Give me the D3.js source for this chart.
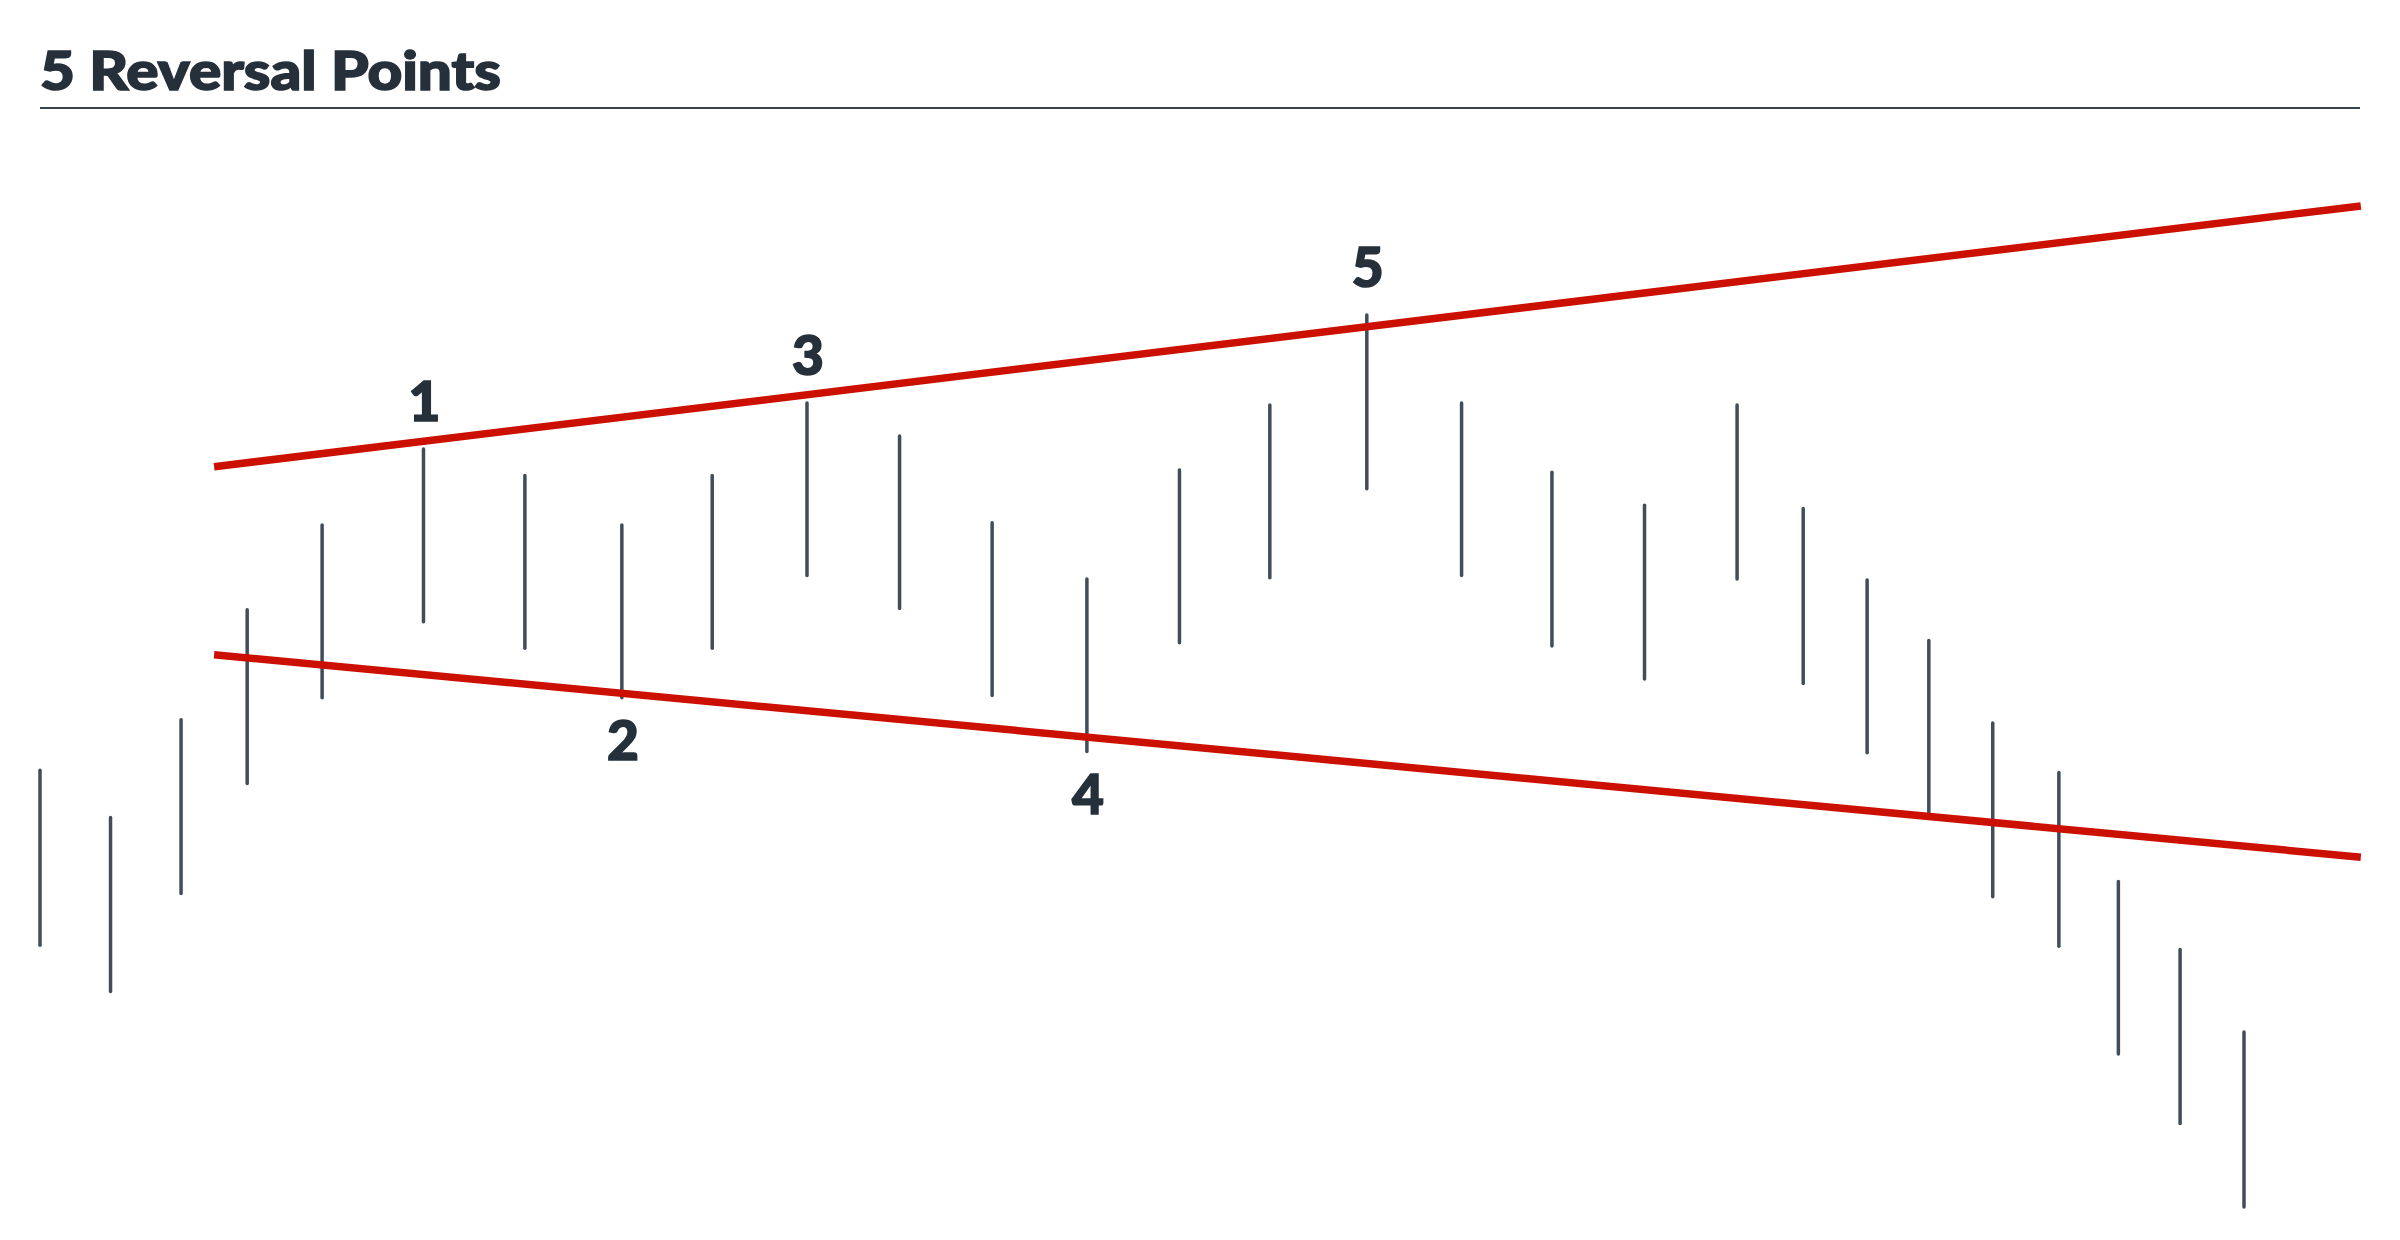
<!DOCTYPE html>
<html>
<head>
<meta charset="utf-8">
<script src="https://cdn.jsdelivr.net/npm/d3@7"></script>
<style>
    body { margin: 0; background: #fff; }
    svg { display: block; }
</style>
</head>
<body>
<div id="chart"></div>
<script>
// Price bars forming a broadening formation, with the 5 reversal points marked

// Data
// ---------------------------------------------------------
const times = [0, 3.2, 6.4, 9.4, 12.8, 17.4, 22.0, 26.4, 30.5, 34.8, 39.0, 43.2, 47.5, 51.7,
               55.8, 60.2, 64.5, 68.6, 72.8, 77.0, 80.0, 82.9, 85.7, 88.6, 91.6, 94.3, 97.1, 100];
const highs = [42.7, 38.4, 47.3, 57.3, 65.0, 71.9, 69.5, 65.0, 69.5, 76.1, 73.1, 65.2, 60.1, 70.0,
               75.9, 84.1, 76.1, 69.8, 66.8, 75.9, 66.5, 60.0, 54.5, 47.0, 42.5, 32.6, 26.4, 18.9];
const lows  = [26.8, 22.6, 31.5, 41.5, 49.3, 56.2, 53.8, 49.3, 53.8, 60.4, 57.4, 49.5, 44.4, 54.3,
               60.2, 68.3, 60.4, 54.0, 51.0, 60.1, 50.6, 44.3, 38.8, 31.2, 26.7, 16.9, 10.6, 3.0];

// trend lines: [start time, start price, end time, end price]
const upperLine = [7.9, 70.3, 105.3, 94.0];
const lowerLine = [7.9, 53.2, 105.3, 34.8];

// reversal points: label, bar index, side of the bar
const pointLabels = ["1", "2", "3", "4", "5"];
const pointBars   = [5, 7, 9, 12, 15];
const pointSides  = ["above", "below", "above", "below", "above"];

const title = "5 Reversal Points";

// Layout
// ---------------------------------------------------------
let width = 2400,
    height = 1240,
    left = 40,
    right = 2360,
    titleY = 90,
    titleWidth = 461,
    ruleY = 108,
    barColor = "#414d5a",
    textColor = "#25303b",
    trendColor = "#cc1000",
    fontFamily = "Lato, 'Open Sans', sans-serif";

let svg = d3.select("#chart").append("svg")
    .attr("width", width)
    .attr("height", height);

// Scales
// ---------------------------------------------------------
let x = d3.scaleLinear()
    .domain([0, 100])
    .range([40, 2244]);

let y = d3.scaleLinear()
    .domain([0, 100])
    .range([1240, 140]);

// Title
// ---------------------------------------------------------
svg.append("text")
    .attr("x", left)
    .attr("y", titleY)
    .attr("fill", textColor)
    .attr("stroke", textColor)
    .attr("stroke-width", 1.6)
    .attr("textLength", titleWidth)
    .attr("lengthAdjust", "spacingAndGlyphs")
    .style("font-family", fontFamily)
    .style("font-weight", 900)
    .style("font-size", "54px")
    .text(title);

svg.append("line")
    .attr("x1", left)
    .attr("x2", right)
    .attr("y1", ruleY)
    .attr("y2", ruleY)
    .attr("stroke", "#39434f")
    .attr("stroke-width", 2);

// Bars
// ---------------------------------------------------------
let bars = times.map((t, i) => ({ t: t, high: highs[i], low: lows[i] }));

svg.selectAll(".bar")
    .data(bars)
    .enter()
    .append("line")
        .attr("class", "bar")
        .attr("x1", d => x(d.t))
        .attr("x2", d => x(d.t))
        .attr("y1", d => y(d.high))
        .attr("y2", d => y(d.low))
        .attr("stroke", barColor)
        .attr("stroke-width", 3.5)
        .attr("stroke-linecap", "round");

// Trend lines
// ---------------------------------------------------------
svg.selectAll(".trend")
    .data([upperLine, lowerLine])
    .enter()
    .append("line")
        .attr("class", "trend")
        .attr("x1", d => x(d[0]))
        .attr("y1", d => y(d[1]))
        .attr("x2", d => x(d[2]))
        .attr("y2", d => y(d[3]))
        .attr("stroke", trendColor)
        .attr("stroke-width", 7.5);

// Point labels
// ---------------------------------------------------------
let points = pointLabels.map((l, i) => ({ label: l, bar: bars[pointBars[i]], side: pointSides[i] }));

svg.selectAll(".pointLabel")
    .data(points)
    .enter()
    .append("text")
        .attr("class", "pointLabel")
        .attr("x", d => x(d.bar.t) + 1)
        .attr("y", d => d.side == "above" ? y(d.bar.high) - 28 : y(d.bar.low) + 62)
        .attr("text-anchor", "middle")
        .attr("fill", textColor)
        .attr("stroke", textColor)
        .attr("stroke-width", 1.6)
        .style("font-family", fontFamily)
        .style("font-weight", 900)
        .style("font-size", "55px")
        .text(d => d.label);
</script>
</body>
</html>
